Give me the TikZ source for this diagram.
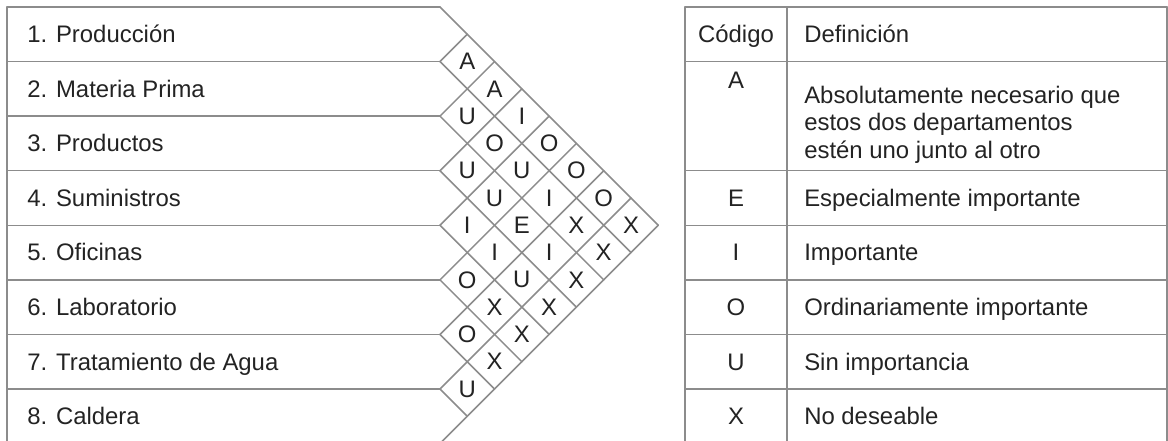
\documentclass[tikz,border=0pt]{standalone}
\usepackage{fontspec}
\setmainfont{Liberation Sans}
\definecolor{gridcol}{RGB}{140,140,140}
\definecolor{textcol}{RGB}{35,35,35}
\newcommand{\rowh}{1.3643}
\newcommand{\halfh}{0.68215}

\begin{document}
\begin{tikzpicture}[
  font=\fontsize{17}{19.6}\selectfont,
  frame/.style={draw=gridcol, line width=1.1pt, line cap=round},
  dept/.style={anchor=base west, inner sep=0pt, text=textcol},
  rel/.style={inner sep=0pt, text=textcol},
  code/.style={anchor=base, inner sep=0pt, text=textcol},
  defn/.style={anchor=base west, inner sep=0pt, text=textcol, align=left}
]
  \useasboundingbox (0,0) rectangle (29.2,-11.025);

  % department rows
  \foreach \b in {0,...,8}
    \draw[frame] (0.175,{-0.175-\b*\rowh}) -- (11,{-0.175-\b*\rowh});
  \draw[frame] (0.175,-0.175) -- (0.175,{-0.175-8*\rowh});

  % diamond grid
  \foreach \b in {0,...,7}
    \draw[frame] (11,{-0.175-\b*\rowh}) -- ++({(8-\b)*\halfh},{-(8-\b)*\halfh});
  \foreach \b in {1,...,8}
    \draw[frame] (11,{-0.175-\b*\rowh}) -- ++({\b*\halfh},{\b*\halfh});

  \foreach \n/\t in {1/Producción, 2/Materia Prima, 3/Productos, 4/Suministros,
                     5/Oficinas, 6/Laboratorio, 7/Tratamiento de Agua, 8/Caldera}
    \node[dept] (d\n) at (0.675,{-0.175-(\n-0.5)*\rowh-0.21}) {\n. \t};

  % relationship codes
  \foreach \i/\j/\c in {1/2/A, 1/3/A, 1/4/I, 1/5/O, 1/6/O, 1/7/O, 1/8/X,
                        2/3/U, 2/4/O, 2/5/U, 2/6/I, 2/7/X, 2/8/X,
                        3/4/U, 3/5/U, 3/6/E, 3/7/I, 3/8/X,
                        4/5/I, 4/6/I, 4/7/U, 4/8/X,
                        5/6/O, 5/7/X, 5/8/X,
                        6/7/O, 6/8/X,
                        7/8/U}
    \node[rel] (r\i\j) at ({11+(\j-\i)*\halfh},{-0.175-(\i+\j-1)*\halfh}) {\c};

  % legend table
  \foreach \x in {17.125,19.675,29.175}
    \draw[frame] (\x,-0.175) -- (\x,{-0.175-8*\rowh});
  \foreach \b in {0,1,3,4,5,6,7,8}
    \draw[frame] (17.125,{-0.175-\b*\rowh}) -- (29.175,{-0.175-\b*\rowh});

  \node[code] (hcode) at (18.4,-1.067) {Código};
  \node[defn] (hdef) at (20.1,-1.067) {Definición};
  \node[code] (cA) at (18.4,-2.21) {A};
  \node[defn] (dA) at (20.1,-3.96)
    {Absolutamente necesario que\\estos dos departamentos\\estén uno junto al otro};
  \node[code] (cE) at (18.4,-5.16) {E};
  \node[defn] (dE) at (20.1,-5.16) {Especialmente importante};
  \node[code] (cI) at (18.4,-6.524) {I};
  \node[defn] (dI) at (20.1,-6.524) {Importante};
  \node[code] (cO) at (18.4,-7.889) {O};
  \node[defn] (dO) at (20.1,-7.889) {Ordinariamente importante};
  \node[code] (cU) at (18.4,-9.253) {U};
  \node[defn] (dU) at (20.1,-9.253) {Sin importancia};
  \node[code] (cX) at (18.4,-10.617) {X};
  \node[defn] (dX) at (20.1,-10.617) {No deseable};
\end{tikzpicture}
\end{document}
